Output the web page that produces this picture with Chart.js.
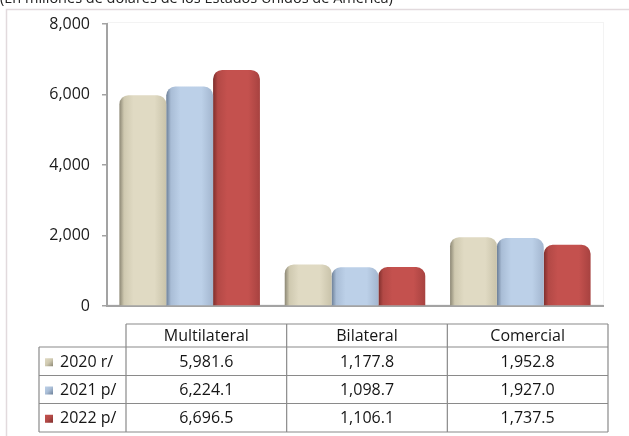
<!DOCTYPE html>
<html>
<head>
<meta charset="utf-8">
<script src="https://cdn.jsdelivr.net/npm/chart.js@4/dist/chart.umd.min.js"></script>
<style>
  html, body { margin: 0; padding: 0; background: #ffffff; }
  #wrap { position: relative; width: 629px; height: 436px; }
</style>
</head>
<body>
<div id="wrap"><canvas id="c" width="629" height="436"></canvas></div>
<script>
// Deuda externa por tipo de acreedor (millones de USD)
const categories = ['Multilateral', 'Bilateral', 'Comercial'];
const seriesLabels = ['2020 r/', '2021 p/', '2022 p/'];
const values2020 = [5981.6, 1177.8, 1952.8];
const values2021 = [6224.1, 1098.7, 1927.0];
const values2022 = [6696.5, 1106.1, 1737.5];
const yTicks = [0, 2000, 4000, 6000, 8000];
const subtitle = '(En millones de dólares de los Estados Unidos de América)';

const FONT = '"Open Sans", "Noto Sans", sans-serif';

// colour ramps for the cylinder-like shading: [edge, mid, main, right edge]
const shades = [
  ['#8c8774', '#cfc9b0', '#e0dac3', '#c9c3aa'],
  ['#6b7e96', '#a9bdd6', '#bcd0e8', '#a3b6cf'],
  ['#7e2e2c', '#b34946', '#c4514e', '#a74240']
];

const fmtVal = v => v.toLocaleString('en-US', { minimumFractionDigits: 1, maximumFractionDigits: 1 });
const fmtTick = v => v.toLocaleString('en-US');

function barGradient(ctx, x0, x1, s) {
  const g = ctx.createLinearGradient(x0, 0, x1, 0);
  g.addColorStop(0, s[0]);
  g.addColorStop(0.1, s[1]);
  g.addColorStop(0.3, s[2]);
  g.addColorStop(0.75, s[2]);
  g.addColorStop(1, s[3]);
  return g;
}

// horizontal shading for each bar, computed from its laid-out geometry
const shadePlugin = {
  id: 'shade',
  beforeDatasetsDraw(chart) {
    const ctx = chart.ctx;
    chart.data.datasets.forEach((ds, di) => {
      chart.getDatasetMeta(di).data.forEach(bar => {
        const x0 = bar.x - bar.width / 2, x1 = bar.x + bar.width / 2;
        bar.options.backgroundColor = barGradient(ctx, x0, x1, shades[di]);
      });
    });
  }
};

// frame, subtitle and the data table under the plot
const framePlugin = {
  id: 'frame',
  beforeDraw(chart) {
    const ctx = chart.ctx;
    ctx.save();
    ctx.fillStyle = '#ffffff';
    ctx.fillRect(0, 0, chart.width, chart.height);
    ctx.strokeStyle = '#e2dadd';
    ctx.lineWidth = 1.5;
    ctx.strokeRect(6.5, 9.5, 700, 600);
    const a = chart.chartArea;
    ctx.strokeStyle = '#f3f3f3';
    ctx.lineWidth = 1;
    ctx.strokeRect(a.left + 0.5, a.top - 1.5, a.right - a.left, a.bottom - a.top);
    ctx.fillStyle = '#222222';
    ctx.font = '14.5px ' + FONT;
    ctx.textBaseline = 'alphabetic';
    ctx.textAlign = 'left';
    ctx.fillText(subtitle, 0, 3);
    ctx.restore();
  },
  afterDraw(chart) {
    const ctx = chart.ctx;
    const L = 39, C0 = 126, R = 608;
    const rows = [324, 347, 375.5, 403.5, 432];
    const colW = (R - C0) / categories.length;
    const series = [values2020, values2021, values2022];
    ctx.save();
    ctx.strokeStyle = '#8a8a8a';
    ctx.lineWidth = 1.2;
    ctx.beginPath();
    // header row spans the value columns only
    ctx.moveTo(C0, rows[0]); ctx.lineTo(R, rows[0]);
    for (let r = 1; r < rows.length; r++) { ctx.moveTo(L, rows[r]); ctx.lineTo(R, rows[r]); }
    ctx.moveTo(L, rows[1]); ctx.lineTo(L, rows[rows.length - 1]);
    for (let c = 0; c <= categories.length; c++) {
      const x = C0 + c * colW;
      ctx.moveTo(x, rows[0]); ctx.lineTo(x, rows[rows.length - 1]);
    }
    ctx.stroke();

    ctx.fillStyle = '#151515';
    ctx.font = '16px ' + FONT;
    ctx.textBaseline = 'middle';
    ctx.textAlign = 'center';
    categories.forEach((cat, c) => {
      ctx.fillText(cat, C0 + (c + 0.5) * colW, (rows[0] + rows[1]) / 2 + 1);
    });
    series.forEach((vals, s) => {
      const yc = (rows[s + 1] + rows[s + 2]) / 2 + 1;
      // legend key
      const kx = 45, ks = 8, ky = yc - ks / 2;
      const g = ctx.createLinearGradient(kx, ky, kx + ks, ky + ks);
      g.addColorStop(0, shades[s][2]);
      g.addColorStop(0.5, shades[s][1]);
      g.addColorStop(1, shades[s][0]);
      ctx.fillStyle = g;
      ctx.fillRect(kx, ky, ks, ks);
      ctx.fillStyle = '#151515';
      ctx.textAlign = 'left';
      ctx.fillText(seriesLabels[s], 60, yc);
      ctx.textAlign = 'center';
      vals.forEach((v, c) => ctx.fillText(fmtVal(v), C0 + (c + 0.5) * colW, yc));
    });
    ctx.restore();
  }
};

new Chart(document.getElementById('c'), {
  type: 'bar',
  data: {
    labels: categories,
    datasets: [
      { label: seriesLabels[0], data: values2020, backgroundColor: () => shades[0][2] },
      { label: seriesLabels[1], data: values2021, backgroundColor: () => shades[1][2] },
      { label: seriesLabels[2], data: values2022, backgroundColor: () => shades[2][2] }
    ]
  },
  options: {
    responsive: false,
    animation: false,
    devicePixelRatio: 1,
    layout: { padding: { left: 0, top: 24, right: 26, bottom: 130 } },
    datasets: {
      bar: {
        barPercentage: 1.0,
        categoryPercentage: 0.85,
        borderRadius: { topLeft: 9, topRight: 9, bottomLeft: 0, bottomRight: 0 },
        borderSkipped: 'bottom',
        borderWidth: 0
      }
    },
    plugins: {
      legend: { display: false },
      tooltip: { enabled: false },
      title: { display: false }
    },
    scales: {
      x: {
        ticks: { display: false },
        grid: { display: true, drawOnChartArea: false, drawTicks: false },
        border: { display: true, color: '#a3a3a3', width: 2 },
        afterFit(scale) { scale.height = 0; }
      },
      y: {
        min: 0,
        max: 8000,
        afterBuildTicks(scale) { scale.ticks = yTicks.map(v => ({ value: v })); },
        ticks: {
          color: '#1a1a1a',
          font: { family: FONT, size: 16 },
          padding: 12,
          callback: v => fmtTick(v)
        },
        grid: { display: true, drawOnChartArea: false, drawTicks: true, tickLength: 5, color: '#a3a3a3', lineWidth: 1.5 },
        border: { display: true, color: '#a3a3a3', width: 2 },
        afterFit(scale) { scale.width = 107; }
      }
    }
  },
  plugins: [framePlugin, shadePlugin]
});
</script>
</body>
</html>
